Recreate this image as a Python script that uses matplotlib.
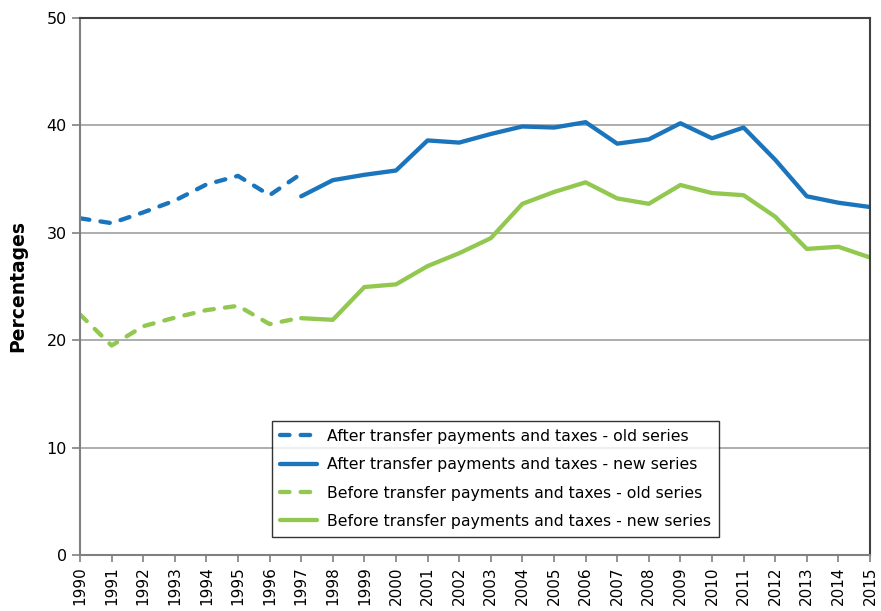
import matplotlib
matplotlib.use("Agg")
import matplotlib.pyplot as plt

years_old = list(range(1990, 1998))
after_old = [31.35, 30.9, 31.9, 33.0, 34.5, 35.3, 33.5, 35.5]
before_old = [22.4, 19.5, 21.3, 22.1, 22.8, 23.2, 21.5, 22.1]

years_new = list(range(1997, 2016))
after_new = [33.4, 34.9, 35.4, 35.8, 38.6, 38.4, 39.2, 39.9, 39.8, 40.3,
             38.3, 38.7, 40.2, 38.8, 39.8, 36.8, 33.4, 32.8, 32.4]
before_new = [22.05, 21.9, 24.95, 25.2, 26.9, 28.1, 29.5, 32.7, 33.8, 34.7,
              33.2, 32.7, 34.45, 33.7, 33.5, 31.5, 28.5, 28.7, 27.7]

labels = ["After transfer payments and taxes - old series",
          "After transfer payments and taxes - new series",
          "Before transfer payments and taxes - old series",
          "Before transfer payments and taxes - new series"]
all_years = list(range(1990, 2016))

blue = "#1B75BC"
green = "#92C850"

fig = plt.figure(figsize=(8.81, 6.11), dpi=100)
ax = fig.add_axes([80/881, 1-555/611, 790/881, 537/611])

lw = 3.1
dash = (0, (2.2, 2.6))
ax.plot(years_old, after_old, color=blue, lw=lw, ls=dash, label=labels[0], dash_capstyle='round')
ax.plot(years_new, after_new, color=blue, lw=lw, label=labels[1], solid_capstyle='round')
ax.plot(years_old, before_old, color=green, lw=lw, ls=dash, label=labels[2], dash_capstyle='round')
ax.plot(years_new, before_new, color=green, lw=lw, label=labels[3], solid_capstyle='round')

ax.set_xlim(1990, 2015)
ax.set_ylim(0, 50)
ax.set_yticks([0, 10, 20, 30, 40, 50])
ax.set_xticks(all_years)
ax.set_xticklabels([str(y) for y in all_years], rotation=90, fontsize=11)
ax.tick_params(axis='y', labelsize=11.5, length=6, color="#808080", width=1.2)
ax.tick_params(axis='x', length=5, color="#808080", width=1.2, pad=3)
ax.grid(axis='y', color="#A0A0A0", lw=1.2)
ax.set_axisbelow(True)
for s in ['left', 'bottom']:
    ax.spines[s].set_color("#808080")
    ax.spines[s].set_linewidth(1.5)
for s in ['top', 'right']:
    ax.spines[s].set_color("#404040")
    ax.spines[s].set_linewidth(1.5)
ax.set_ylabel("Percentages", fontsize=13.5, fontweight='bold', labelpad=14)

leg = ax.legend(loc='lower left', bbox_to_anchor=(0.243, 0.034, 0.566, 0.223), mode='expand',
                fontsize=11.3, frameon=True, fancybox=False, edgecolor='black',
                handlelength=2.4, borderaxespad=0, labelspacing=0.85, handletextpad=0.6,
                borderpad=0.5)
leg.get_frame().set_linewidth(1.0)

fig.savefig("out.png", dpi=100)
